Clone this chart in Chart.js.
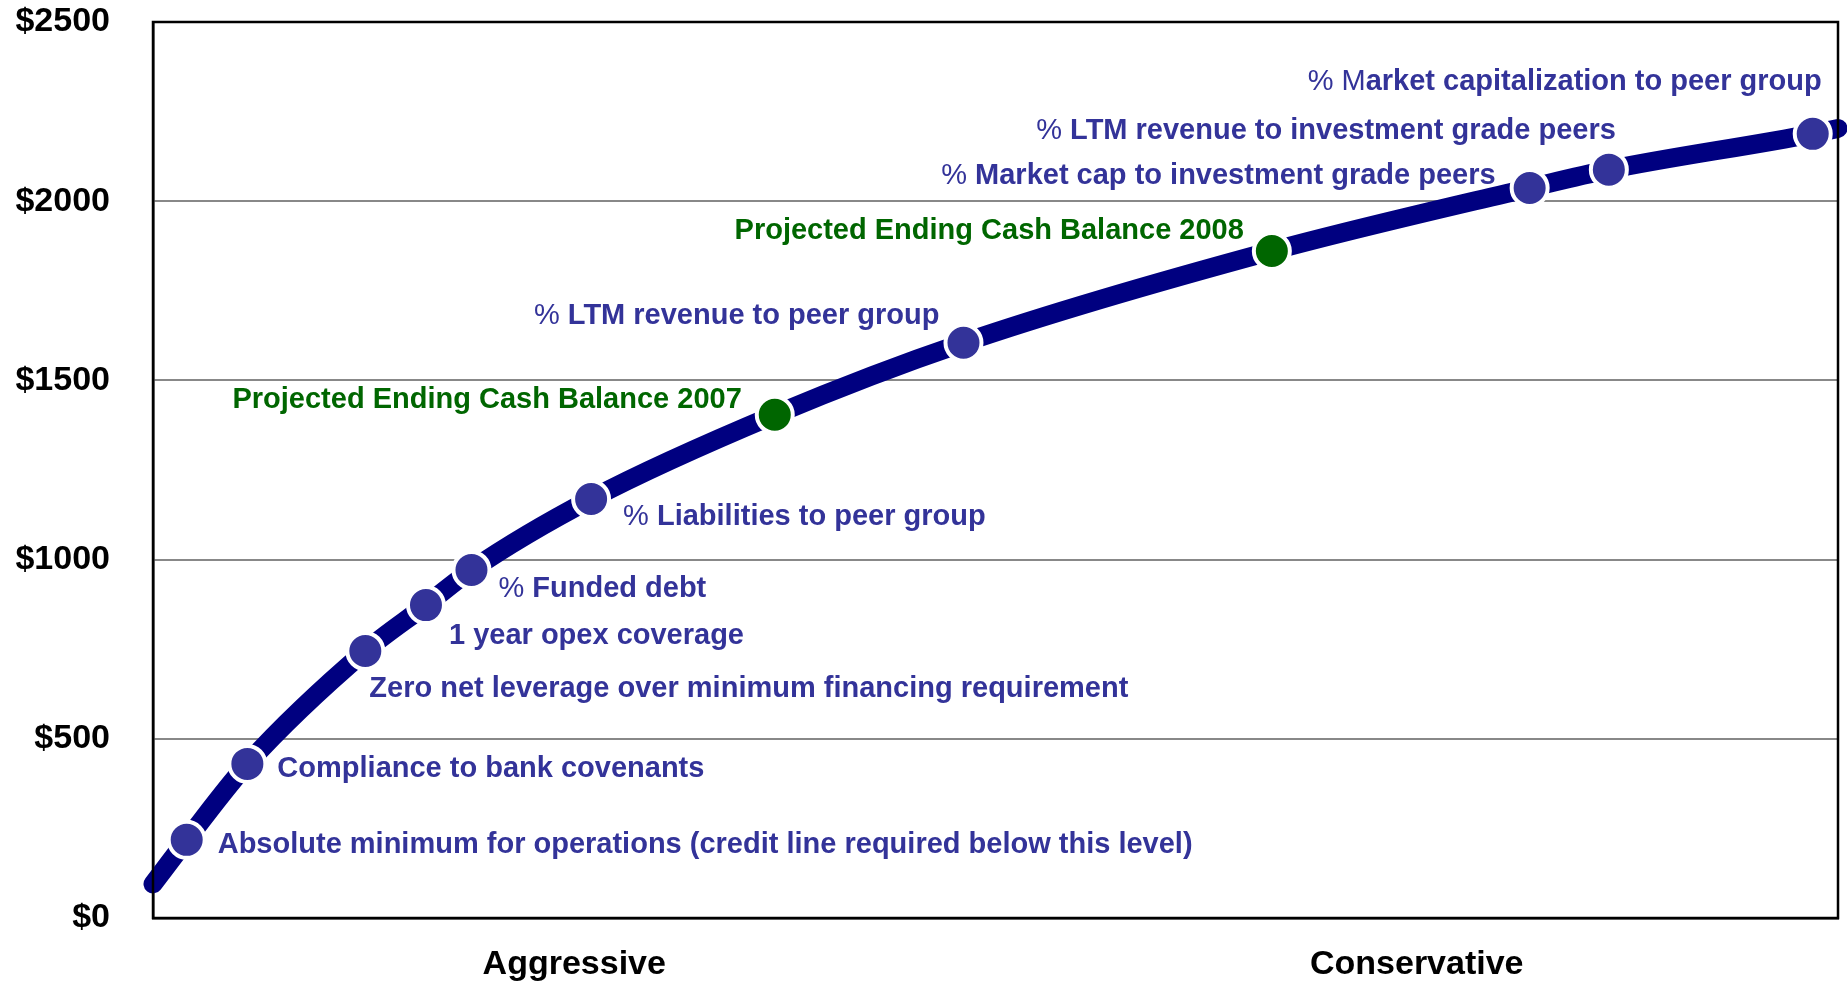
<!DOCTYPE html>
<html>
<head>
<meta charset="utf-8">
<script src="https://cdn.jsdelivr.net/npm/chart.js@4/dist/chart.umd.min.js"></script>
<style>
  body { margin: 0; background: #fff; }
  #wrap { width: 1847px; height: 984px; }
</style>
</head>
<body>
<div id="wrap"><canvas id="myChart"></canvas></div>
<script>
// categories on the bottom axis
const stances = ["Aggressive", "Conservative"];

// y axis ticks
const yTicks = [0, 500, 1000, 1500, 2000, 2500];

// curve ends (no marker drawn there)
const curveStart = { x: 0, y: 95 };
const curveEnd = { x: 100, y: 2203 };

// markers along the curve
const markerX = [2.0, 5.6, 12.6, 16.2, 18.9, 26.0, 36.9, 48.1, 66.4, 81.7, 86.4, 98.5];
const markerY = [218, 430, 745, 873, 971, 1169, 1404, 1605, 1861, 2037, 2088, 2188];
const markerKind = ["target", "target", "target", "target", "target", "target",
  "projected", "target", "projected", "target", "target", "target"];
const markerText = [
  "Absolute minimum for operations (credit line required below this level)",
  "Compliance to bank covenants",
  "Zero net leverage over minimum financing requirement",
  "1 year opex coverage",
  "% Funded debt",
  "% Liabilities to peer group",
  "Projected Ending Cash Balance 2007",
  "% LTM revenue to peer group",
  "Projected Ending Cash Balance 2008",
  "% Market cap to investment grade peers",
  "% LTM revenue to investment grade peers",
  "% Market capitalization to peer group",
];

// label placement relative to the marker (pixels)
const labelPlace = [
  { dx: 31, dy: 5, align: "left" },
  { dx: 30, dy: 5, align: "left" },
  { dx: 4, dy: 38, align: "left" },
  { dx: 23, dy: 31, align: "left" },
  { dx: 27, dy: 19, align: "left" },
  { dx: 32, dy: 18, align: "left" },
  { dx: -33, dy: -15, align: "right" },
  { dx: -24, dy: -27, align: "right" },
  { dx: -28, dy: -20, align: "right" },
  { dx: -34, dy: -12, align: "right" },
  { dx: 7, dy: -39, align: "right" },
  { dx: 9, dy: -52, align: "right" },
];

const kindColor = { target: "#333399", projected: "#006600" };
const FONT = "'Liberation Sans', Arial, sans-serif";

const points = [curveStart];
markerX.forEach((x, i) => points.push({ x: x, y: markerY[i] }));
points.push(curveEnd);

const pointColors = [null].concat(markerKind.map(k => kindColor[k])).concat([null]);
const pointSizes = points.map((p, i) => (i === 0 || i === points.length - 1) ? 0 : 18);

// black box round the plot area
const framePlugin = {
  id: "frame",
  afterDatasetsDraw(chart) {
    const { ctx, chartArea } = chart;
    ctx.save();
    ctx.strokeStyle = "#000";
    ctx.lineWidth = 2.5;
    ctx.strokeRect(chartArea.left, chartArea.top,
      chartArea.right - chartArea.left, chartArea.bottom - chartArea.top);
    ctx.restore();
  },
};

// text next to each marker
const labelPlugin = {
  id: "markerLabels",
  afterDraw(chart) {
    const ctx = chart.ctx;
    const meta = chart.getDatasetMeta(0);
    ctx.save();
    ctx.textBaseline = "middle";
    ctx.textAlign = "left";
    markerText.forEach((txt, i) => {
      const el = meta.data[i + 1];
      const pl = labelPlace[i];
      // the "%" (and one stray "M") are set in plain weight in the original
      let plain = "";
      if (txt.startsWith("% M") && i === 11) plain = "% M";
      else if (txt.startsWith("% ")) plain = "% ";
      const rest = txt.slice(plain.length);
      const plainFont = "normal 29px " + FONT;
      const boldFont = "bold 29px " + FONT;
      ctx.font = plainFont;
      const w1 = ctx.measureText(plain).width;
      ctx.font = boldFont;
      const w2 = ctx.measureText(rest).width;
      let x = el.x + pl.dx;
      if (pl.align === "right") x -= (w1 + w2);
      const y = el.y + pl.dy;
      ctx.fillStyle = kindColor[markerKind[i]];
      if (plain) {
        ctx.font = plainFont;
        ctx.fillText(plain, x, y);
      }
      ctx.font = boldFont;
      ctx.fillText(rest, x + w1, y);
    });
    ctx.restore();
  },
};

const config = {
  type: "line",
  data: {
    labels: stances,
    datasets: [
      {
        label: "cash",
        xAxisID: "xv",
        data: points,
        borderColor: "#000080",
        borderWidth: 19,
        borderCapStyle: "round",
        cubicInterpolationMode: "monotone",
        pointRadius: pointSizes,
        pointHoverRadius: pointSizes,
        pointBackgroundColor: pointColors,
        pointBorderColor: "#ffffff",
        pointBorderWidth: 4,
        clip: false,
      },
    ],
  },
  options: {
    responsive: true,
    maintainAspectRatio: false,
    animation: false,
    layout: { padding: { top: 22, right: 9, left: 0, bottom: 0 } },
    plugins: {
      legend: { display: false },
      tooltip: { enabled: false },
    },
    scales: {
      x: {
        type: "category",
        offset: true,
        grid: { display: false, drawTicks: false },
        border: { display: true, color: "#000", width: 2.5 },
        ticks: {
          color: "#000",
          font: { family: FONT, size: 34, weight: "bold" },
          padding: 26,
        },
        afterFit(scale) {
          scale.height = 66;
          scale.paddingLeft = 0;
          scale.paddingRight = 0;
        },
      },
      xv: {
        type: "linear",
        position: "bottom",
        min: 0,
        max: 100,
        display: false,
      },
      y: {
        min: 0,
        max: 2500,
        afterBuildTicks(scale) { scale.ticks = yTicks.map(v => ({ value: v })); },
        grid: { color: "#888888", lineWidth: 2, drawTicks: false },
        border: { display: true, color: "#000", width: 2.5 },
        ticks: {
          color: "#000",
          font: { family: FONT, size: 34, weight: "bold" },
          padding: 43,
          callback: v => "$" + v,
        },
        afterFit(scale) {
          scale.width = 153;
          scale.paddingTop = 0;
          scale.paddingBottom = 0;
        },
      },
    },
  },
  plugins: [framePlugin, labelPlugin],
};

const myChart = new Chart(document.getElementById("myChart"), config);
</script>
</body>
</html>
